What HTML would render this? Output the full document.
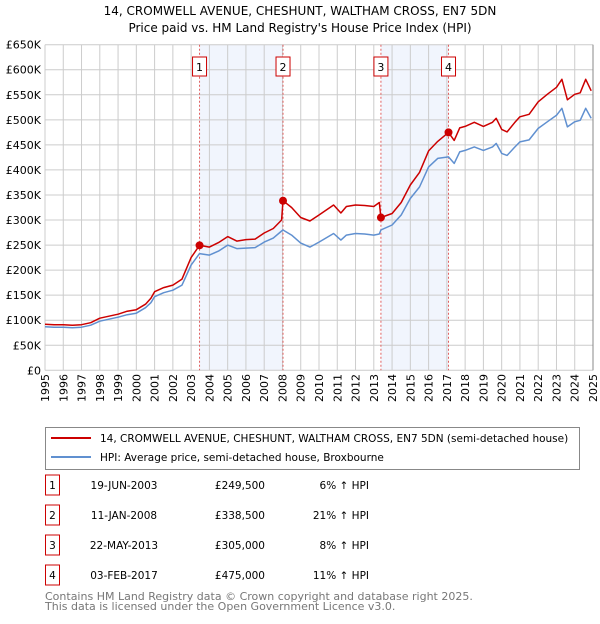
<!DOCTYPE html>
<html><head><meta charset="utf-8">
<style>
body{margin:0;background:#fff;width:600px;height:620px;overflow:hidden;font-family:"DejaVu Sans","Liberation Sans",sans-serif;}
svg text{font-family:"DejaVu Sans","Liberation Sans",sans-serif;}
</style></head>
<body>
<svg id="chart" width="600" height="620">
<text x="300" y="15" font-size="12" text-anchor="middle">14, CROMWELL AVENUE, CHESHUNT, WALTHAM CROSS, EN7 5DN</text>
<text x="300" y="32" font-size="12" text-anchor="middle">Price paid vs. HM Land Registry's House Price Index (HPI)</text>
<g id="bands"></g><g id="grid"></g><g id="axes"></g><g id="series"></g><g id="markers"></g>

<g>
<rect x="45.5" y="427.5" width="534" height="42" fill="#fff" stroke="#888"/>
<line x1="51" y1="438" x2="91" y2="438" stroke="#cc0000" stroke-width="2"/>
<text x="100" y="442" font-size="10.5">14, CROMWELL AVENUE, CHESHUNT, WALTHAM CROSS, EN7 5DN (semi-detached house)</text>
<line x1="51" y1="457" x2="91" y2="457" stroke="#6090d0" stroke-width="2"/>
<text x="100" y="461" font-size="10.5">HPI: Average price, semi-detached house, Broxbourne</text>
</g>
<g id="table" font-size="10.5"></g>
<text x="45" y="600" font-size="11" fill="#777">Contains HM Land Registry data © Crown copyright and database right 2025.</text>
<text x="45" y="610" font-size="11" fill="#777">This data is licensed under the Open Government Licence v3.0.</text>
</svg>
<script>
const years=[1995,1996,1997,1998,1999,2000,2001,2002,2003,2004,2005,2006,2007,2008,2009,2010,2011,2012,2013,2014,2015,2016,2017,2018,2019,2020,2021,2022,2023,2024,2025];
const yTicks=[0,50,100,150,200,250,300,350,400,450,500,550,600,650];
const times=[1995,1995.5,1996,1996.5,1997,1997.5,1998,1998.5,1999,1999.5,2000,2000.5,2000.8,2001,2001.5,2002,2002.5,2003,2003.46,2004,2004.5,2005,2005.5,2006,2006.5,2007,2007.5,2007.95,2008.03,2008.5,2009,2009.5,2010,2010.8,2011.2,2011.5,2012,2012.5,2013,2013.3,2013.39,2014,2014.5,2015,2015.5,2016,2016.5,2017.09,2017.4,2017.7,2018,2018.5,2019,2019.5,2019.7,2020,2020.3,2020.7,2021,2021.5,2022,2022.5,2023,2023.3,2023.6,2024,2024.3,2024.6,2024.9];
const hpiValues=[87,86,86,85,86,90,98,102,106,111,114,125,135,147,155,160,170,210,233,230,238,250,243,244,245,256,264,278,280,270,254,246,256,273,260,270,273,272,270,272,280,290,310,343,366,406,423,426,413,436,439,446,439,446,453,433,429,445,456,460,483,496,509,523,486,496,499,523,503];
const propValues=[92,91,91,90,91,95,104,108,112,118,121,132,144,157,165,170,182,225,249.5,246,255,267,258,261,262,274,283,300,338.5,325,305,298,310,330,314,327,330,329,327,335,305,313,335,370,395,438,457,475,459,484,487,495,487,495,503,481,476,494,506,511,536,551,565,581,540,551,554,581,558];
const saleLabels=["1","2","3","4"];
const saleTimes=[2003.46,2008.03,2013.39,2017.09];
const salePrices=[249.5,338.5,305,475];
const saleDates=["19-JUN-2003","11-JAN-2008","22-MAY-2013","03-FEB-2017"];
const salePriceText=["£249,500","£338,500","£305,000","£475,000"];
const saleHpiText=["6% ↑ HPI","21% ↑ HPI","8% ↑ HPI","11% ↑ HPI"];

const X0=45,X1=593,Y0=370.3,Y1=44.7;
const xs=t=>X0+(t-1995)/30*(X1-X0);
const ys=v=>Y0-v/650*(Y0-Y1);
const NS="http://www.w3.org/2000/svg";
function mk(tag,attrs,parent){const e=document.createElementNS(NS,tag);for(const k in attrs)e.setAttribute(k,attrs[k]);parent.appendChild(e);return e;}
const bands=document.getElementById('bands'),grid=document.getElementById('grid'),axes=document.getElementById('axes'),series=document.getElementById('series'),markers=document.getElementById('markers'),table=document.getElementById('table');

for(let i=0;i<saleTimes.length;i+=2){
  const r=mk('rect',{x:xs(saleTimes[i]),y:Y1,width:xs(saleTimes[i+1])-xs(saleTimes[i]),height:Y0-Y1,fill:'#eef3fc',opacity:0.8},bands);
  
  
}
years.forEach(y=>{
  const l=mk('line',{x1:xs(y),x2:xs(y),y1:Y1,y2:Y0,stroke:'#cccccc','stroke-width':1},grid);
  
  
  const t=mk('text',{x:0,y:0,'font-size':11,'text-anchor':'end',transform:`translate(${xs(y)+4},374) rotate(-90)`},axes);
  t.textContent=y;
  
  
});
yTicks.forEach(v=>{
  const l=mk('line',{x1:X0,x2:X1,y1:ys(v),y2:ys(v),stroke:'#cccccc','stroke-width':1},grid);
  
  
  const t=mk('text',{x:41,y:ys(v)+4,'font-size':11,'text-anchor':'end'},axes);
  t.textContent=v===0?'£0':'£'+v+'K';
  
  
});
saleTimes.forEach((t,i)=>{
  const l=mk('line',{x1:xs(t),x2:xs(t),y1:Y1,y2:Y0,stroke:'#e06060','stroke-width':1,'stroke-dasharray':'2,2'},grid);
  
  
  const b=mk('rect',{x:xs(t)-7,y:57,width:14,height:19,fill:'#fff',stroke:'#cc0000'},markers);
  
  
  const tx=mk('text',{x:xs(t),y:71,'font-size':11,'text-anchor':'middle'},markers);
  tx.textContent=saleLabels[i];
  
  
});
const line=(vals,col,name)=>{
  const p=mk('polyline',{points:times.map((t,i)=>xs(t).toFixed(1)+','+ys(vals[i]).toFixed(1)).join(' '),fill:'none',stroke:col,'stroke-width':1.5,'stroke-linejoin':'round'},series);
  
  
};
line(hpiValues,'#6090d0','hpi-line');
line(propValues,'#cc0000','property-price-line');
saleTimes.forEach((t,i)=>{
  const c=mk('circle',{cx:xs(t),cy:ys(salePrices[i]),r:4,fill:'#cc0000'},markers);
  
  
});
mk('line',{x1:X1,x2:X1,y1:Y1,y2:Y0,stroke:'#888'},axes);
saleLabels.forEach((s,i)=>{
  const cy=485+i*30;
  const b=mk('rect',{x:45.5,y:cy-10,width:14,height:20,fill:'#fff',stroke:'#cc0000'},table);
  
  
  const a=mk('text',{x:52.5,y:cy+4,'text-anchor':'middle'},table);a.textContent=s;
  
  
  const d=mk('text',{x:124,y:cy+4,'text-anchor':'middle'},table);d.textContent=saleDates[i];
  
  
  const p=mk('text',{x:265,y:cy+4,'text-anchor':'end'},table);p.textContent=salePriceText[i];
  
  
  const h=mk('text',{x:369,y:cy+4,'text-anchor':'end'},table);h.textContent=saleHpiText[i];
  
  
});
</script>
</body></html>
